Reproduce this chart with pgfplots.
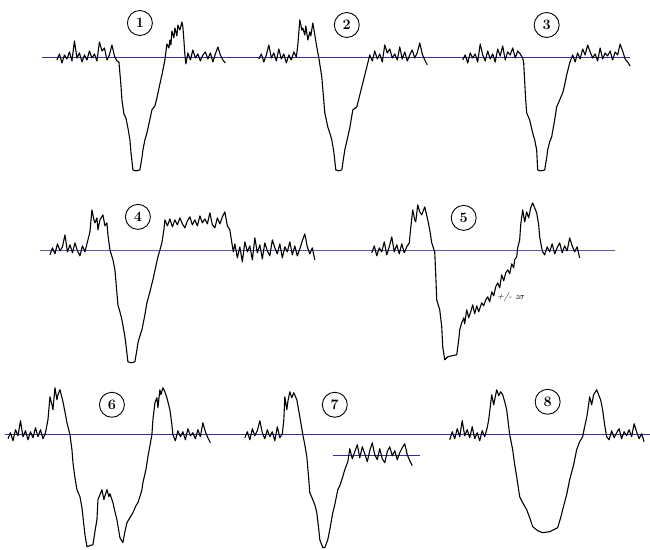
\documentclass[border=0pt]{standalone}
\usepackage{pgfplots}
\pgfplotsset{compat=1.18}
\definecolor{base}{RGB}{55,45,160}
\definecolor{baselt}{RGB}{95,85,175}
\begin{document}
\begin{tikzpicture}
\begin{axis}[width=650pt,height=550pt,scale only axis,
  xmin=0,xmax=650,ymin=0,ymax=550,y dir=reverse,
  axis line style={draw=none},ticks=none,clip=false]
% baselines
\addplot[base,line width=0.8pt] coordinates {(42,57) (630,57)};
\addplot[baselt,line width=0.7pt] coordinates {(40,250) (615,250)};
\addplot[base,line width=0.8pt] coordinates {(5,435) (650,435)};
\addplot[base,line width=0.8pt] coordinates {(333,456) (420,456)};
% panel 1
\addplot[black,line width=1.1pt,line join=round] coordinates {
(57,60)(59.5,54)(62,63)(64.5,55)(67,59)(69.5,52)(72,61)(74.5,41)(77,58)(79.5,53)(82,62)(84.5,55)(87,60)(89.5,51)(92,58)(94.5,54)(97,61)(99.5,42)(102,51)(104.5,48)(107,60)(109.5,55)(112,45)(114.5,56)(117,61)
(119,62)(121,85)(122,100)(124,114)(126,118)(128,128)(130,140)(131,152)(133,170)(136,171)(140,170)(142,158)(143,150)(145,140)(147,133)(149,124)(152,110)(155,106)(157,98)(160,84)(162,75)(165,60)(166,52)(167,44)(169,48)(170,40)(171,45)(172,31)(174,38)(175,28)(177,36)(178,25)(180,30)(182,22)(183,27)(184,40)(185,55)(186,64)
(188,53)(190.5,60)(193,50)(195.5,58)(198,54)(200.5,61)(203,55)(205.5,52)(208,59)(210.5,53)(213,62)(215.5,54)(218,47)(220.5,55)(223,60)(225.5,63)};
% panel 2
\addplot[black,line width=1.1pt,line join=round] coordinates {
(259,59)(261.5,54)(264,62)(266.5,55)(269,45)(271.5,58)(274,53)(276.5,61)(279,49)(281.5,59)(284,54)(286.5,63)(289,55)(291.5,60)(294,52)(296.5,57)
(298,45)(300,20)(302,30)(303,28)(305,35)(306,26)(308,40)(310,32)(311,36)(313,23)(315,35)(317,47)(319,58)(322,77)(325,113)(328,127)(330,133)(332,140)(334,152)(336,170)(339,171)(342,170)(345,150)(348,137)(350,128)(353,110)(357,107)(360,95)(362,87)(365,75)(367,67)(370,55)
(372.5,61)(375,51)(377.5,59)(380,54)(382.5,62)(385,45)(387.5,53)(390,49)(392.5,58)(395,54)(397.5,60)(400,47)(402.5,59)(405,52)(407.5,61)(410,55)(412.5,50)(415,58)(417.5,53)(420,43)(422.5,54)(425,60)(427.5,65)};
% panel 3
\addplot[black,line width=1.1pt,line join=round] coordinates {
(463,60)(465.5,55)(468,63)(470.5,53)(473,58)(475.5,54)(478,62)(480.5,44)(483,55)(485.5,61)(488,51)(490.5,59)(493,54)(495.5,62)(498,49)(500.5,56)(503,46)(505.5,60)(508,52)(510.5,55)(513,48)(515.5,58)(518,51)(520.5,54)
(523,58)(524,63)(526,100)(527,113)(530,120)(533,133)(535,140)(537,150)(538,170)(541,171)(545,170)(547,158)(548,150)(550,142)(552,137)(555,120)(557,107)(560,100)(563,93)(565,85)(567,75)(570,63)(573,55)
(575.5,62)(578,53)(580.5,59)(583,49)(585.5,55)(588,45)(590.5,52)(593,58)(595.5,54)(598,61)(600.5,48)(603,59)(605.5,53)(608,56)(610.5,51)(613,60)(615.5,52)(618,55)(620.5,44)(623,51)(625.5,59)(628,62)(630.5,66)};
% panel 4
\addplot[black,line width=1.1pt,line join=round] coordinates {
(50,255)(52.5,248)(55,254)(57.5,244)(60,251)(62.5,247)(65,235)(67.5,252)(70,245)(72.5,253)(75,243)(77.5,251)(80,256)(82.5,246)(85,252)(87.5,242)
(90,232)(92,210)(94,220)(95,223)(97,218)(98,230)(100,220)(103,215)(105,226)(107,223)(108,235)(110,250)(113,260)(115,270)(118,305)(120,312)(122,320)(125,337)(126,345)(128,362)(131,363)(135,362)(137,350)(138,343)(140,336)(142,330)(145,315)(147,303)(150,292)(153,280)(156,266)(158,257)(160,250)(162,243)(164,230)(165,220)
(167.5,226)(170,219)(172.5,227)(175,220)(177.5,225)(180,218)(182.5,224)(185,228)(187.5,221)(190,217)(192.5,225)(195,220)(197.5,226)(200,216)(202.5,223)(205,219)(207.5,224)(210,213)(212.5,225)(215,228)(217.5,218)(220,224)(222.5,217)(225,212)(227.5,226)(230,230)
(232,243)(233.5,252)
(235,244)(237.5,258)(240,247)(242.5,262)(245,242)(247.5,252)(250,246)(252.5,260)(255,238)(257.5,253)(260,245)(262.5,259)(265,243)(267.5,251)(270,256)(272.5,240)(275,248)(277.5,254)(280,244)(282.5,258)(285,247)(287.5,252)(290,242)(292.5,255)(295,246)(297.5,256)(300,249)(302.5,241)(305,234)(307.5,247)(310,254)(312.5,248)(315,260)};
% panel 5
\addplot[black,line width=1.1pt,line join=round] coordinates {
(372,253)(374.5,246)(377,256)(379.5,248)(382,252)(384.5,242)(387,255)(389.5,247)(392,237)(394.5,252)(397,245)(399.5,254)(402,244)(404.5,253)(407,247)(409.5,243)
(411,228)(413,210)(415,220)(416,222)(418,205)(420,212)(422,215)(425,207)(428,220)(430,230)(432,243)(435,252)(436,275)(437,300)(440,310)(442,327)(443,347)(445,360)(448,357)(452,356)(457,355)(459,340)(460,330)(462,323)
(464,318)(465,324)(467,310)(469,318)(471,312)(473,305)(475,314)(477,306)(479,312)(482,303)(484,306)(486,300)(488,297)(490,302)(492,292)(494,296)(496,287)(498,283)(500,288)(502,275)(504,281)(506,273)(508,270)(510,274)(512,264)(514,268)(515,260)(517,257)(518,248)(520,240)(521,225)(523,210)(525,222)(527,212)(529,218)(531,208)(533,203)(535,208)(537,213)(539,225)(540,237)(542,248)(543,252)
(545,255)(547.5,247)(550,252)(552.5,244)(555,254)(557.5,248)(560,243)(562.5,253)(565,246)(567.5,251)(570,238)(572.5,246)(575,252)(577.5,247)(580,258)};
% panel 6
\addplot[black,line width=1.1pt,line join=round] coordinates {
(8,439)(10.5,433)(13,441)(15.5,430)(18,436)(20.5,421)(23,437)(25.5,431)(28,440)(30.5,432)(33,438)(35.5,428)(38,437)(40.5,430)(43,439)(45.5,433)
(48,420)(50,397)(52,405)(53,410)(55,388)(57,400)(58,395)(60,390)(62,398)(63,402)(65,412)(67,423)(70,435)(72,450)(73,463)(75,478)(77,490)(80,497)(82,508)(83,517)(85,535)(87,547)(90,546)(93,545)(95,532)(97,520)(98,500)(100,495)(102,490)(104,500)(105,496)(107,490)(109,497)(110,494)(112,500)(113,503)(115,512)(117,520)(119,532)(120,538)(123,543)(125,532)(127,523)(130,518)(133,513)(136,506)(138,503)(140,497)(142,490)(143,483)(146,470)(148,457)(150,446)(152,435)(153,420)(155,403)(157,398)(158,408)(160,390)(161,395)(163,388)(165,392)(167,398)(170,410)(172,425)(173,435)
(175.5,441)(178,431)(180.5,437)(183,432)(185.5,440)(188,429)(190.5,436)(193,433)(195.5,439)(198,430)(200.5,437)(203,423)(205.5,432)(208,438)(210.5,443)};
% panel 7
\addplot[black,line width=1.1pt,line join=round] coordinates {
(245,438)(247.5,432)(250,440)(252.5,429)(255,436)(257.5,431)(260,421)(262.5,433)(265,439)(267.5,430)(270,437)(272.5,432)(275,441)(277.5,427)(280,438)(282.5,434)
(284,420)(285,397)(287,410)(288,402)(290,392)(292,398)(294,393)(297,400)(300,417)(303,435)(305,445)(307,457)(309,480)(310,493)(313,500)(315,505)(317,513)(319,530)(320,540)(323,548)(325,548)(328,540)(330,530)(333,513)(335,505)(338,490)(340,486)(343,477)(345,470)(348,462)
(350,449)(352.5,459)(355,452)(357.5,445)(360,458)(362.5,447)(365,454)(367.5,462)(370,451)(372.5,443)(375,455)(377.5,460)(380,449)(382.5,459)(385,463)(387.5,452)(390,447)(392.5,456)(395,451)(397.5,460)(400,453)(402.5,448)(405,444)(407.5,455)(410,461)(412.5,466)};
% panel 8
\addplot[black,line width=1.1pt,line join=round] coordinates {
(450,440)(452.5,432)(455,439)(457.5,429)(460,437)(462.5,421)(465,436)(467.5,430)(470,438)(472.5,427)(475,439)(477.5,433)(480,441)(482.5,431)(485,437)(487.5,428)
(489,420)(492,395)(494,405)(495,400)(497,390)(499,396)(501,392)(503,395)(505,402)(507,410)(510,435)(513,450)(515,465)(517,477)(520,497)(523,503)(527,510)(530,518)(533,527)(538,531)(543,533)(550,532)(558,528)(561,518)(563,510)(567,495)(570,480)(574,465)(577,450)(580,442)(583,437)(585,427)(587,418)(588,412)(590,397)(592,405)(594,395)(597,390)(599,395)(601,400)(603,410)(605,425)(607,437)
(609.5,440)(612,431)(614.5,438)(617,433)(619.5,429)(622,439)(624.5,432)(627,436)(629.5,430)(632,437)(634.5,424)(637,432)(639.5,439)(642,434)(644.5,442)};
% labels
\tikzset{num/.style={circle,draw,line width=0.9pt,minimum size=25pt,inner sep=0pt,font=\Large\bfseries}}
\node[num] at (axis cs:140,23) {1};
\node[num] at (axis cs:347,25) {2};
\node[num] at (axis cs:547,25) {3};
\node[num] at (axis cs:138,217) {4};
\node[num] at (axis cs:464,218) {5};
\node[num] at (axis cs:112,405) {6};
\node[num] at (axis cs:335,405) {7};
\node[num] at (axis cs:548,402) {8};
\node[anchor=west,font=\small\itshape,inner sep=0pt] at (axis cs:497,297) {+/- z$\sigma$};
\end{axis}
\end{tikzpicture}
\end{document}
